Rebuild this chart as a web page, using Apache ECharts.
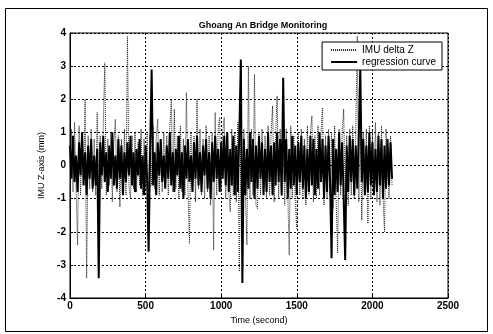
<!DOCTYPE html>
<html>
<head>
<meta charset="utf-8">
<script src="https://cdn.jsdelivr.net/npm/echarts@6/dist/echarts.min.js"></script>
<style>
  html, body { margin: 0; padding: 0; background: #fff; }
  #chart { width: 493px; height: 334px; }
</style>
</head>
<body>
<div id="chart"></div>
<script>
// sample spacing of both traces, seconds
const sampleStep = 10;

const xTicks = [0, 500, 1000, 1500, 2000, 2500];
const yTicks = [-4, -3, -2, -1, 0, 1, 2, 3, 4];

// IMU delta Z (dotted trace), one value per 10 s
const imuDeltaZ = [
  -1.3, 1.1, -0.8, 1.3, -0.7, -2.4, 1.2, -0.9, 1.0, -0.6,
  2.0, -3.4, 0.9, -0.7, 1.1, -0.8, 0.8, -0.9, 1.6, -1.0,
  0.9, -0.7, 1.2, 3.1, -0.9, 0.8, -0.6, 1.0, -1.1, 0.7,
  1.4, -0.8, 0.9, -1.25, 0.8, -0.7, 1.1, -0.9, 3.9, -0.6,
  -1.0, 0.9, -0.7, 1.0, -0.8, 0.7, -0.6, 1.1, -0.9, 0.8,
  -0.7, 1.0, -0.8, 0.9, -0.6, 1.2, -0.7, 0.8, 1.4, -0.9,
  0.7, -0.8, 1.0, -0.6, 0.9, -0.9, 1.1, 2.0, -0.8, 1.7,
  -0.7, 0.9, -1.0, 1.2, -0.8, 0.8, -0.9, 2.2, -0.7, -2.35,
  1.0, -0.8, 0.9, -1.1, 2.0, -0.7, 1.1, -0.9, 0.8, -1.0,
  1.2, -0.8, 0.9, -1.2, 1.0, -2.55, 1.6, -0.9, 1.1, 1.45,
  -0.8, 1.0, 1.45, -1.0, 0.9, -0.8, -1.4, 1.1, -0.9, 1.0,
  -1.1, 1.3, -3.2, 1.2, -1.0, 1.1, -0.9, -2.4, 3.0, -1.0,
  1.1, -0.9, 2.75, -1.2, -1.3, 1.0, -0.9, 1.1, -0.8, 0.9,
  -1.0, 1.2, -0.9, 1.0, 1.8, -1.1, 0.9, 2.1, -1.0, 1.1,
  -0.9, 1.0, -1.2, 1.1, -0.8, -2.7, 1.2, -1.0, 0.9, -1.1,
  -1.9, 1.0, -0.9, 1.1, -1.0, 0.8, -1.2, 1.2, -0.9, 1.0,
  1.5, -1.1, 0.9, -1.0, 1.2, -0.9, 1.0, 1.75, -1.2, 0.9,
  -1.0, 1.1, -0.9, 1.0, -1.3, 1.2, -1.0, -2.65, 1.1, -0.9,
  1.0, 1.7, -1.1, 0.9, -1.2, 1.1, -0.9, 1.2, -1.0, 1.0,
  3.9, -1.1, 1.2, -1.65, 1.0, -0.9, 1.1, -1.75, 1.2, -1.0,
  1.1, -0.9, 1.3, -1.1, 1.0, -1.2, 1.2, -0.9, -2.0, 1.1,
  1.15, -1.0, 0.9, -0.6
];

// regression curve (thick trace), same sampling
const regression = [
  0.6, -0.4, 0.9, -0.5, 0.3, -0.8, 0.7, -0.3, 1.0, -0.6,
  0.4, -0.9, 0.6, -0.4, 0.8, -0.7, 0.3, -0.6, 0.5, -3.4,
  0.7, -0.3, 0.9, -0.5, 0.4, -0.8, 0.6, -0.4, 1.0, -0.6,
  0.3, -0.7, 0.8, -0.4, 0.6, -0.9, 0.4, -0.5, 0.7, -0.3,
  0.9, -0.6, 0.4, -0.8, 0.5, -0.3, 0.8, -0.7, 0.3, -0.9,
  0.6, -0.4, -2.6, 0.5, 2.9, -0.6, 0.4, -0.9, 0.7, -0.3,
  0.8, -0.5, 0.3, -0.7, 0.6, -0.4, 1.0, -0.6, 0.4, -0.8,
  0.5, -0.3, 0.9, -0.7, 0.4, -1.0, 0.6, -0.4, 0.8, -0.5,
  0.3, -0.8, 0.7, -0.4, 0.9, -0.6, 0.4, -0.8, 0.6, -0.3,
  0.8, -0.7, 0.4, -1.0, 0.7, -0.5, 0.9, -0.4, 0.5, -0.8,
  0.7, -0.4, 0.9, -0.6, 1.0, -0.8, 0.5, -0.6, 0.9, -0.9,
  0.6, -0.8, 1.0, 3.2, -3.55, 0.8, -0.9, 0.5, -0.7, 1.0,
  -0.5, 0.8, -1.0, 0.6, -0.7, 0.9, -0.4, 0.7, -0.9, 0.5,
  -0.8, 1.0, -0.5, 0.6, -0.9, 0.7, -0.6, 1.0, -0.5, 0.8,
  -0.9, 2.65, -0.5, 0.8, -1.0, 0.5, -0.7, 0.9, -0.6, 0.6,
  -0.9, 0.7, -0.5, 0.9, -0.7, 0.6, -1.0, 0.5, -0.8, 0.9,
  -0.6, 0.8, -0.9, 0.5, -0.7, 1.0, -0.5, 0.8, -1.0, 0.6,
  -0.8, 0.9, -0.5, -2.8, 0.8, -0.9, 0.5, -0.8, 1.0, -0.6,
  0.7, -1.0, -2.85, 0.6, -0.8, 0.9, -0.5, 0.8, -0.9, 0.6,
  -0.7, 0.9, 2.95, -0.5, 0.8, -0.9, 0.6, -0.8, 1.0, -0.6,
  0.7, -0.9, 0.5, -0.8, 0.9, -0.6, 0.8, -1.0, 0.6, -0.7,
  0.8, -0.6, 0.7, -0.4
];

const font = "'Liberation Sans', Arial, sans-serif";
const withTime = (arr) => arr.map((v, i) => [i * sampleStep, v]);

const chart = echarts.init(document.getElementById("chart"), null, { renderer: "canvas" });

chart.setOption({
  animation: false,
  backgroundColor: "#fff",
  title: {
    text: "Ghoang An Bridge Monitoring",
    left: 258,
    textAlign: "center",
    top: 16,
    textStyle: { fontFamily: font, fontSize: 9, fontWeight: "bold", color: "#000" },
  },
  graphic: [
    {
      type: "rect",
      shape: { x: 5.5, y: 8.5, width: 482, height: 323 },
      style: { fill: null, stroke: "#000", lineWidth: 1 },
      silent: true,
    },
  ],
  legend: {
    orient: "vertical",
    right: 51,
    top: 42,
    itemWidth: 26,
    itemHeight: 8,
    itemGap: 2,
    padding: [3, 6, 3, 8],
    backgroundColor: "#fff",
    borderColor: "#000",
    borderWidth: 1,
    borderRadius: 0,
    itemStyle: { opacity: 0 },
    textStyle: { fontFamily: font, fontSize: 10, color: "#000" },
    data: ["IMU delta Z", "regression curve"],
  },
  grid: {
    left: 70, right: 45, top: 33, bottom: 36,
    show: true, borderColor: "#000", borderWidth: 1, backgroundColor: "#fff",
  },
  xAxis: {
    type: "value",
    min: 0, max: 2500, interval: 500,
    name: "Time (second)",
    nameLocation: "middle",
    nameGap: 14,
    nameTextStyle: { fontFamily: font, fontSize: 9, color: "#000" },
    axisLine: { show: true, onZero: false, lineStyle: { color: "#000" } },
    axisTick: { show: true, inside: true, length: 3, lineStyle: { color: "#000" } },
    axisLabel: {
      fontFamily: font, fontSize: 10, fontWeight: "bold", color: "#000", margin: 3,
      formatter: (v) => (xTicks.includes(v) ? String(v) : ""),
    },
    splitLine: { show: true, lineStyle: { color: "#000", type: [2, 2], width: 1 } },
  },
  yAxis: {
    type: "value",
    min: -4, max: 4, interval: 1,
    name: "IMU Z-axis (mm)",
    nameLocation: "middle",
    nameGap: 20,
    nameTextStyle: { fontFamily: font, fontSize: 9, color: "#000" },
    axisLine: { show: true, onZero: false, lineStyle: { color: "#000" } },
    axisTick: { show: true, inside: true, length: 3, lineStyle: { color: "#000" } },
    axisLabel: {
      fontFamily: font, fontSize: 10, fontWeight: "bold", color: "#000", margin: 4,
      formatter: (v) => (yTicks.includes(v) ? String(v) : ""),
    },
    splitLine: { show: true, lineStyle: { color: "#000", type: [2, 2], width: 1 } },
  },
  series: [
    {
      name: "IMU delta Z",
      type: "line",
      data: withTime(imuDeltaZ),
      symbol: "none",
      lineStyle: { color: "#222", width: 1, type: [1, 1] },
      itemStyle: { color: "#222" },
      z: 2,
    },
    {
      name: "regression curve",
      type: "line",
      data: withTime(regression),
      symbol: "none",
      lineStyle: { color: "#000", width: 2 },
      itemStyle: { color: "#000" },
      z: 3,
    },
  ],
});
</script>
</body>
</html>
